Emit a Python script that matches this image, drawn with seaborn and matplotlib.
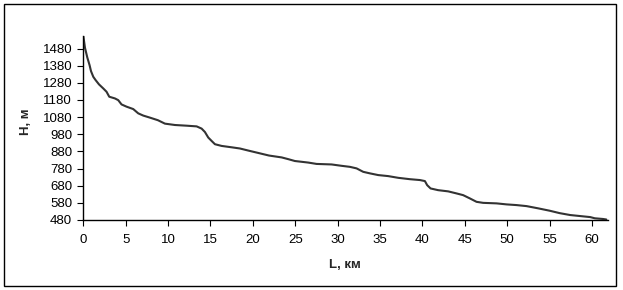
import matplotlib
matplotlib.use("Agg")
import matplotlib.pyplot as plt
from matplotlib.patches import Rectangle
import seaborn as sns
import pandas as pd

distance_km = [0.0, 0.2, 0.47, 0.74, 0.91, 1.18, 1.45, 1.85, 2.36, 2.74, 3.06, 3.73,
               4.12, 4.51, 5.1, 5.89, 6.48, 7.07, 7.86, 8.8, 9.63, 10.81, 12.19, 13.37,
               13.96, 14.35, 14.74, 15.14, 15.53, 16.32, 17.5, 18.48, 19.46, 20.64, 21.9,
               23.4, 24.17, 24.96, 26.53, 27.52, 29.29, 30.47, 31.45, 32.24, 33.02, 33.81,
               34.79, 35.97, 37.15, 38.53, 39.71, 40.3, 40.57, 40.97, 41.86, 43.04, 44.03,
               44.81, 45.6, 46.39, 47.17, 48.75, 49.93, 51.11, 52.29, 53.66, 55.03, 56.2,
               57.43, 58.61, 59.8, 60.34, 61.3, 61.7]
elevation_m = [1554, 1484, 1428, 1383, 1348, 1315, 1296, 1271, 1247, 1228, 1199, 1189,
               1179, 1154, 1141, 1127, 1102, 1089, 1077, 1062, 1042, 1034, 1030, 1026,
               1013, 993, 961, 941, 922, 912, 904, 897, 885, 871, 856,
               845, 835, 824, 815, 807, 804, 796, 790, 781, 761, 752,
               742, 736, 726, 718, 713, 707, 683, 664, 654, 647, 635,
               625, 606, 586, 580, 577, 571, 567, 561, 548, 534, 520,
               509, 503, 497, 490, 486, 483]
x_ticks = [0, 5, 10, 15, 20, 25, 30, 35, 40, 45, 50, 55, 60]
y_ticks = [480, 580, 680, 780, 880, 980, 1080, 1180, 1280, 1380, 1480]
x_label = "L, км"
y_label = "H, м"

sns.set_theme(style="white")
plt.rcParams["font.family"] = ["Liberation Sans", "DejaVu Sans"]

df = pd.DataFrame({"L": distance_km, "H": elevation_m})

fig = plt.figure(figsize=(6.23, 2.90), dpi=100)
fig.patch.set_facecolor("white")
ax = fig.add_axes([83.3 / 623, 1 - 220 / 290, (608 - 83.3) / 623, (220 - 35.5) / 290])

sns.lineplot(data=df, x="L", y="H", ax=ax, color="#333333", linewidth=1.5, sort=False)

ax.set_xlim(0, 61.9)
ax.set_ylim(480, 1556)
ax.set_xticks(x_ticks)
ax.set_yticks(y_ticks)
ax.set_xticklabels([str(t) for t in x_ticks])
ax.set_yticklabels([str(t) for t in y_ticks])

for side in ["top", "right"]:
    ax.spines[side].set_visible(False)
for side in ["left", "bottom"]:
    ax.spines[side].set_color("black")
    ax.spines[side].set_linewidth(1.0)

ax.tick_params(axis="both", which="major", direction="out", length=4, width=0.8,
               colors="black", labelsize=9.5, bottom=True, left=True)
ax.tick_params(axis="x", pad=6)
ax.tick_params(axis="y", pad=4)

ax.set_xlabel(x_label, fontweight="bold", fontsize=9.5, va="center")
ax.set_ylabel(y_label, fontweight="bold", fontsize=9.5, va="center")
ax.xaxis.set_label_coords(0.499, -0.245)
ax.yaxis.set_label_coords(-0.109, 0.534)
ax.grid(False)

fig.patches.append(Rectangle((4 / 623, 1 - 286 / 290), (616 - 4) / 623, (286 - 4) / 290,
                             transform=fig.transFigure, fill=False,
                             edgecolor="black", linewidth=1.0))

fig.savefig("out.png", dpi=100, facecolor="white")
